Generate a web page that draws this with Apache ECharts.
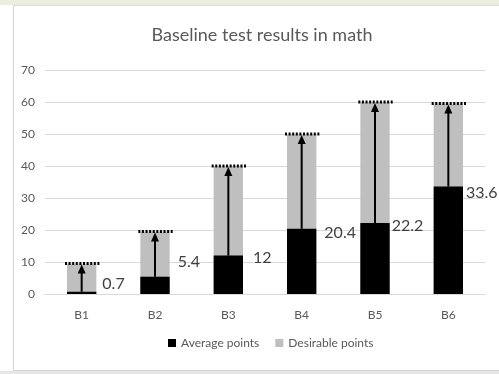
<!DOCTYPE html>
<html>
<head>
<meta charset="utf-8">
<script src="https://cdn.jsdelivr.net/npm/echarts@6/dist/echarts.min.js"></script>
<style>
  html, body { margin: 0; padding: 0; background: #ffffff; }
  #wrap { position: relative; width: 499px; height: 374px; overflow: hidden; background: #ffffff; }
  #topband { position: absolute; left: 0; top: 0; width: 499px; height: 5px; background: #eceedf; }
  #frame { position: absolute; left: 13px; top: 5px; width: 490px; height: 364px;
           border-left: 1px solid #d6d6d6; border-top: 1px solid #dcdcdc; border-bottom: 1px solid #d2d2d2; }
  #bottomband { position: absolute; left: 0; top: 371px; width: 499px; height: 3px; background: #e6e6e6; }
  #chart { position: absolute; left: 0; top: 0; width: 499px; height: 374px; }
</style>
</head>
<body>
<div id="wrap">
  <div id="topband"></div>
  <div id="frame"></div>
  <div id="bottomband"></div>
  <div id="chart"></div>
</div>
<script>
// Test groups and their scores
const categories = ['B1', 'B2', 'B3', 'B4', 'B5', 'B6'];
const averagePoints = [0.7, 5.4, 12, 20.4, 22.2, 33.6];
const desirablePoints = [9.5, 19.5, 40, 50, 60, 59.5];
const yAxisMin = 0;
const yAxisMax = 70;
const yAxisStep = 10;

// Small per-label nudges (px) for the value labels, [dx, dy]
const labelNudge = [[0, -8], [2, -15], [4, 2], [2, 4], [-4, 3], [-3, 6]];

const FONT = 'Lato, "Open Sans", sans-serif';
const BAR_RATIO = 0.4;

const chart = echarts.init(document.getElementById('chart'), null, { renderer: 'canvas' });

// Arrow from the average to the target, dotted cap at the target, value label
function renderArrow(params, api) {
  const i = api.value(0);
  const avg = api.value(1);
  const des = api.value(2);
  const pAvg = api.coord([i, avg]);
  const pDes = api.coord([i, des]);
  const x = pAvg[0];
  const barW = api.size([1, 0])[0] * BAR_RATIO;
  const headH = 9;
  const headW = 4;
  const tipY = pDes[1] + 1;
  const nudge = labelNudge[i] || [0, 0];
  return {
    type: 'group',
    children: [
      {
        type: 'line',
        shape: { x1: x, y1: pAvg[1], x2: x, y2: tipY + headH - 1 },
        style: { stroke: '#000', lineWidth: 2 }
      },
      {
        type: 'polygon',
        shape: { points: [[x, tipY], [x - headW, tipY + headH], [x + headW, tipY + headH]] },
        style: { fill: '#000' }
      },
      {
        type: 'line',
        shape: { x1: x - barW / 2 - 2, y1: pDes[1], x2: x + barW / 2 + 3, y2: pDes[1] },
        style: { stroke: '#000', lineWidth: 3, lineDash: [2, 1.6] }
      },
      {
        type: 'text',
        x: x + barW / 2 + 6 + nudge[0],
        y: pAvg[1] + nudge[1],
        style: {
          text: String(avg),
          fill: '#404040',
          font: '16px ' + FONT,
          textAlign: 'left',
          textVerticalAlign: 'middle'
        }
      }
    ]
  };
}

const option = {
  animation: false,
  backgroundColor: 'transparent',
  textStyle: { fontFamily: FONT },
  title: {
    text: 'Baseline test results in math',
    left: 257,
    textAlign: 'center',
    top: 21,
    textStyle: { fontFamily: FONT, fontSize: 18, fontWeight: 'normal', color: '#595959' }
  },
  legend: {
    data: ['Average points', 'Desirable points'],
    left: 163,
    top: 332,
    icon: 'rect',
    itemWidth: 8,
    itemHeight: 8,
    itemGap: 16,
    textStyle: { fontFamily: FONT, fontSize: 12, color: '#595959' }
  },
  grid: { left: 45, right: 14, top: 70, bottom: 80, containLabel: false },
  xAxis: {
    type: 'category',
    data: categories,
    axisLine: { show: true, lineStyle: { color: '#d9d9d9', width: 1 } },
    axisTick: { show: false },
    axisLabel: { color: '#595959', fontSize: 12, margin: 15, fontFamily: FONT }
  },
  yAxis: {
    type: 'value',
    min: yAxisMin,
    max: yAxisMax,
    interval: yAxisStep,
    axisLine: { show: false },
    axisTick: { show: false },
    axisLabel: { color: '#595959', fontSize: 12, margin: 10, fontFamily: FONT },
    splitLine: { lineStyle: { color: '#d9d9d9', width: 1 } }
  },
  series: [
    {
      name: 'Desirable points',
      type: 'bar',
      data: desirablePoints,
      barWidth: (BAR_RATIO * 100) + '%',
      itemStyle: { color: '#bfbfbf' },
      z: 2
    },
    {
      name: 'Average points',
      type: 'bar',
      data: averagePoints,
      barWidth: (BAR_RATIO * 100) + '%',
      barGap: '-100%',
      itemStyle: { color: '#000000' },
      z: 3
    },
    {
      name: 'arrows',
      type: 'custom',
      renderItem: renderArrow,
      data: categories.map((c, i) => [i, averagePoints[i], desirablePoints[i]]),
      encode: { x: 0, y: 1 },
      silent: true,
      z: 5
    }
  ]
};

chart.setOption(option);
</script>
</body>
</html>
